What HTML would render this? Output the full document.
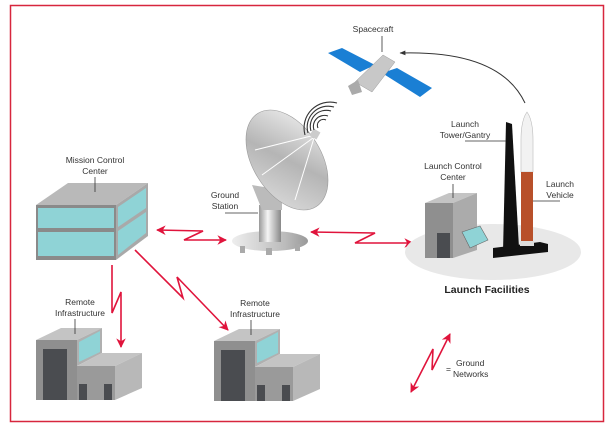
<!DOCTYPE html>
<html><head><meta charset="utf-8"><style>
html,body{margin:0;padding:0;background:#fff}
svg{display:block}
text{font-family:"Liberation Sans",sans-serif;font-size:8.5px;fill:#333}
</style></head><body>
<svg width="612" height="428" viewBox="0 0 612 428" xmlns="http://www.w3.org/2000/svg">
<defs>
<linearGradient id="dish" x1="0" y1="0" x2="1" y2="1"><stop offset="0" stop-color="#f4f4f4"/><stop offset="0.5" stop-color="#b5b5b5"/><stop offset="1" stop-color="#e0e0e0"/></linearGradient>
<linearGradient id="pole" x1="0" x2="1"><stop offset="0" stop-color="#999"/><stop offset="0.4" stop-color="#f5f5f5"/><stop offset="1" stop-color="#888"/></linearGradient>
<linearGradient id="base" x1="0" x2="1"><stop offset="0" stop-color="#eee"/><stop offset="0.7" stop-color="#bbb"/><stop offset="1" stop-color="#999"/></linearGradient>
<marker id="ah" viewBox="0 0 10 10" refX="9" refY="5" markerWidth="6" markerHeight="6" orient="auto-start-reverse"><path d="M0,0 L10,5 L0,10 L3,5 z" fill="#e0143c"/></marker>
<marker id="bh" viewBox="0 0 10 10" refX="9" refY="5" markerWidth="6" markerHeight="6" orient="auto"><path d="M0,1 L10,5 L0,9 z" fill="#333"/></marker>
</defs>
<rect x="10.5" y="5.5" width="593" height="416" fill="none" stroke="#d7263d" stroke-width="1.5"/>

<!-- Mission control center -->
<polygon points="36,205 116,205 148,183 68,183" fill="#b9b9b9"/>
<rect x="36" y="205" width="80" height="55" fill="#8a8a8a"/>
<polygon points="116,205 148,183 148,236 116,260" fill="#a9a9a9"/>
<rect x="38" y="208" width="76" height="20" fill="#8fd3d6"/>
<rect x="38" y="232" width="76" height="24" fill="#8fd3d6"/>
<polygon points="118,207 146,188 146,208 118,227" fill="#8fd3d6"/>
<polygon points="118,231 146,212 146,233 118,255" fill="#8fd3d6"/>
<text x="95" y="163" text-anchor="middle">Mission Control</text>
<text x="95" y="174" text-anchor="middle">Center</text>
<line x1="95" y1="177" x2="95" y2="192" stroke="#333" stroke-width="0.8"/>

<!-- Remote buildings -->
<g id="rb">
<polygon points="36,340 77,340 102,328 61,328" fill="#c4c4c4"/>
<rect x="36" y="340" width="41" height="60" fill="#8f8f8f"/>
<polygon points="77,340 102,328 102,353 77,366" fill="#b0b0b0"/>
<polygon points="79,342 100,331 100,352 79,362" fill="#8fd3d6"/>
<rect x="43" y="349" width="24" height="51" fill="#4a4c50"/>
<polygon points="77,366 115,366 142,353 102,353" fill="#c4c4c4"/>
<rect x="77" y="366" width="38" height="34" fill="#9a9a9a"/>
<polygon points="115,366 142,353 142,388 115,400" fill="#b8b8b8"/>
<rect x="79" y="384" width="8" height="16" fill="#4a4c50"/>
<rect x="104" y="384" width="8" height="16" fill="#4a4c50"/>
</g>
<use href="#rb" transform="translate(178,1)"/>
<text x="80" y="305" text-anchor="middle">Remote</text>
<text x="80" y="316" text-anchor="middle">Infrastructure</text>
<line x1="75" y1="319" x2="75" y2="334" stroke="#333" stroke-width="0.8"/>
<text x="255" y="306" text-anchor="middle">Remote</text>
<text x="255" y="317" text-anchor="middle">Infrastructure</text>
<line x1="251" y1="320" x2="251" y2="335" stroke="#333" stroke-width="0.8"/>

<!-- red networks -->
<g fill="none" stroke="#e0143c" stroke-width="1.6">
<polyline points="157,230 203,231 184,240 226,240" marker-start="url(#ah)" marker-end="url(#ah)"/>
<polyline points="112,265 112,313 121,292 121,347" marker-end="url(#ah)"/>
<polyline points="135,250 183,298 177,277 228,330" marker-end="url(#ah)"/>
<polyline points="311,232 375,233 355,243 413,243" marker-start="url(#ah)" marker-end="url(#ah)"/>
<polyline points="411,392 433,349 432,370 450,334" marker-start="url(#ah)" marker-end="url(#ah)"/>
</g>
<text x="446" y="372">=</text>
<text x="456" y="366">Ground</text>
<text x="453" y="377">Networks</text>

<!-- ground station -->
<ellipse cx="270" cy="241" rx="38" ry="10" fill="url(#base)"/>
<rect x="240" y="246" width="5" height="7" fill="#aaa"/><rect x="266" y="248" width="6" height="7" fill="#aaa"/><rect x="295" y="244" width="5" height="7" fill="#aaa"/>
<rect x="259" y="205" width="22" height="37" fill="url(#pole)"/>
<polygon points="252,185 262,210 282,210 282,190" fill="#bbb"/>
<ellipse cx="287" cy="160" rx="55" ry="34" transform="rotate(58 287 160)" fill="url(#dish)" stroke="#999" stroke-width="0.6"/>
<g stroke="#fff" stroke-width="1" fill="none"><line x1="255" y1="150" x2="315" y2="135"/><line x1="262" y1="175" x2="313" y2="138"/><line x1="295" y1="200" x2="314" y2="138"/></g>
<rect x="311" y="130" width="8" height="8" fill="#ccc" transform="rotate(30 315 134)"/>
<g fill="none" stroke="#333" stroke-width="1.1">
<path d="M318,128 a6,6 0 0 1 8,-8"/><path d="M314,130 a11,11 0 0 1 14,-14"/><path d="M311,131 a16,16 0 0 1 20,-20"/><path d="M308,133 a21,21 0 0 1 26,-26"/><path d="M305,135 a26,26 0 0 1 32,-32"/>
</g>
<text x="225" y="198" text-anchor="middle">Ground</text>
<text x="225" y="209" text-anchor="middle">Station</text>
<line x1="225" y1="213" x2="258" y2="213" stroke="#333" stroke-width="0.8"/>

<!-- spacecraft -->
<polygon points="328,53 342,48 375,65 360,72" fill="#1a7fd4"/>
<polygon points="382,73 397,68 432,88 420,97" fill="#1a7fd4"/>
<polygon points="355,82 383,55 395,62 372,92" fill="#c8c8c8" stroke="#999" stroke-width="0.5"/>
<polygon points="348,86 358,80 362,92 352,95" fill="#aaa"/>
<text x="373" y="32" text-anchor="middle">Spacecraft</text>
<line x1="382" y1="36" x2="382" y2="52" stroke="#333" stroke-width="0.8"/>
<path d="M525,103 Q500,50 400,53" fill="none" stroke="#333" stroke-width="1" marker-end="url(#bh)"/>

<!-- launch facilities -->
<ellipse cx="493" cy="252" rx="88" ry="28" fill="#e8e8e8"/>
<polygon points="425,203 453,203 477,193 449,193" fill="#c4c4c4"/>
<rect x="425" y="203" width="28" height="55" fill="#8f8f8f"/>
<polygon points="453,203 477,193 477,250 453,258" fill="#ababab"/>
<polygon points="462,232 480,226 488,240 470,248" fill="#8fd3d6" stroke="#666" stroke-width="0.6"/>
<rect x="437" y="233" width="13" height="25" fill="#4a4c50"/>
<polygon points="493,248 540,242 548,244 548,252 493,258" fill="#111"/>
<polygon points="503,252 506,122 512,124 519,248" fill="#111"/>
<path d="M521,140 Q521,120 527,112 Q533,120 533,140 L533,172 L521,172 Z" fill="#f2f2f2" stroke="#bbb" stroke-width="0.6"/>
<rect x="521" y="172" width="12" height="70" fill="#b8502a"/>
<rect x="520" y="241" width="14" height="5" fill="#ddd"/>
<text x="465" y="127" text-anchor="middle">Launch</text>
<text x="465" y="138" text-anchor="middle">Tower/Gantry</text>
<line x1="465" y1="141" x2="506" y2="141" stroke="#333" stroke-width="0.8"/>
<text x="453" y="169" text-anchor="middle">Launch Control</text>
<text x="453" y="180" text-anchor="middle">Center</text>
<line x1="453" y1="184" x2="453" y2="198" stroke="#333" stroke-width="0.8"/>
<text x="560" y="187" text-anchor="middle">Launch</text>
<text x="560" y="198" text-anchor="middle">Vehicle</text>
<line x1="533" y1="201" x2="560" y2="201" stroke="#333" stroke-width="0.8"/>
<text x="487" y="293" text-anchor="middle" style="font-size:10.5px;font-weight:bold;fill:#222">Launch Facilities</text>
</svg>
</body></html>
